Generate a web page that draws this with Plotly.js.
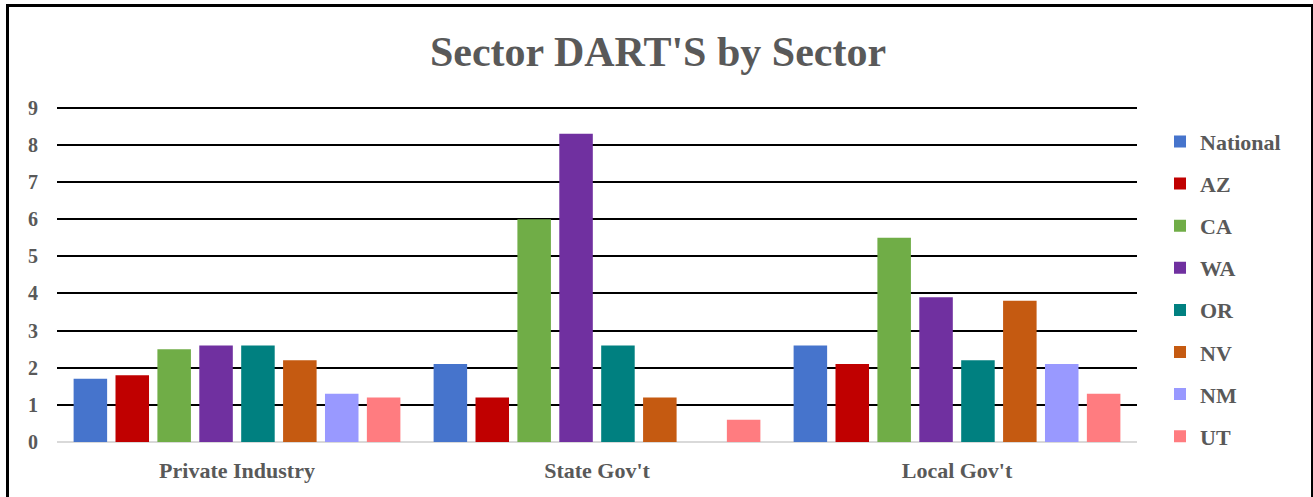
<!DOCTYPE html>
<html>
<head>
<meta charset="utf-8">
<script src="https://cdn.plot.ly/plotly-3.0.1.min.js"></script>
<style>
  html, body { margin: 0; padding: 0; background: #fff; }
  #wrap { position: relative; width: 1313px; height: 497px; overflow: hidden; }
  #chart { position: absolute; left: 0; top: 0; width: 1313px; height: 497px; }
  #frame { position: absolute; left: 6px; top: 4px; width: 1302px; height: 520px;
           border: 3px solid #000; pointer-events: none; box-sizing: content-box; }
</style>
</head>
<body>
<div id="wrap">
  <div id="chart"></div>
  <div id="frame"></div>
</div>
<script>
const categories = ["Private Industry", "State Gov't", "Local Gov't"];
const seriesNames = ["National", "AZ", "CA", "WA", "OR", "NV", "NM", "UT"];
const National = [1.7, 2.1, 2.6];
const AZ = [1.8, 1.2, 2.1];
const CA = [2.5, 6.0, 5.5];
const WA = [2.6, 8.3, 3.9];
const OR = [2.6, 2.6, 2.2];
const NV = [2.2, 1.2, 3.8];
const NM = [1.3, null, 2.1];
const UT = [1.2, 0.6, 1.3];
const yTicks = [0, 1, 2, 3, 4, 5, 6, 7, 8, 9];

const seriesValues = [National, AZ, CA, WA, OR, NV, NM, UT];
const colors = ["#4674cc", "#c00000", "#70ad47", "#7030a0", "#008080", "#c55a11", "#9999ff", "#ff7c80"];

const FONT = "'Liberation Serif', 'Times New Roman', serif";
const GREY = "#595959";

const traces = seriesNames.map((name, i) => ({
  type: "bar",
  name: "<b>" + name + "</b>",
  x: categories,
  y: seriesValues[i],
  legendgroup: name,
  marker: { color: colors[i], line: { width: 0 } },
  hoverinfo: "x+y+name"
}));

const layout = {
  width: 1313,
  height: 497,
  margin: { l: 57, r: 176, t: 104, b: 55 },
  paper_bgcolor: "#fff",
  plot_bgcolor: "#fff",
  font: { family: FONT, color: GREY },
  title: {
    text: "<b>Sector DART'S by Sector</b>",
    font: { family: FONT, size: 42, color: GREY },
    x: 658 / 1313, xref: "container", xanchor: "center",
    y: 1 - 51 / 497, yref: "container", yanchor: "middle"
  },
  barmode: "group",
  bargap: 0.069,
  bargroupgap: 0.2,
  xaxis: {
    type: "category",
    showgrid: false,
    showline: false,
    ticks: "",
    tickfont: { family: FONT, size: 22, color: GREY },
    ticklabelstandoff: 13,
    tickprefix: "<b>", ticksuffix: "</b>"
  },
  yaxis: {
    range: [0, 9.1],
    tickvals: yTicks,
    ticktext: yTicks.map(v => "<b>" + v + "</b>"),
    showgrid: true,
    gridcolor: "#000",
    gridwidth: 2,
    zeroline: true,
    zerolinecolor: "#d9d9d9",
    zerolinewidth: 2,
    showline: false,
    ticks: "",
    tickfont: { family: FONT, size: 20, color: GREY },
    ticklabelstandoff: 18
  },
  showlegend: true,
  legend: {
    x: 1.0213, xanchor: "left", xref: "paper",
    y: (442 - 120.7) / 338, yanchor: "top", yref: "paper",
    font: { family: FONT, size: 22, color: GREY },
    tracegroupgap: 10.5,
    traceorder: "grouped",
    maxheight: 480,
    bgcolor: "rgba(0,0,0,0)"
  }
};

Plotly.newPlot("chart", traces, layout, { staticPlot: true, displayModeBar: false });
</script>
</body>
</html>
